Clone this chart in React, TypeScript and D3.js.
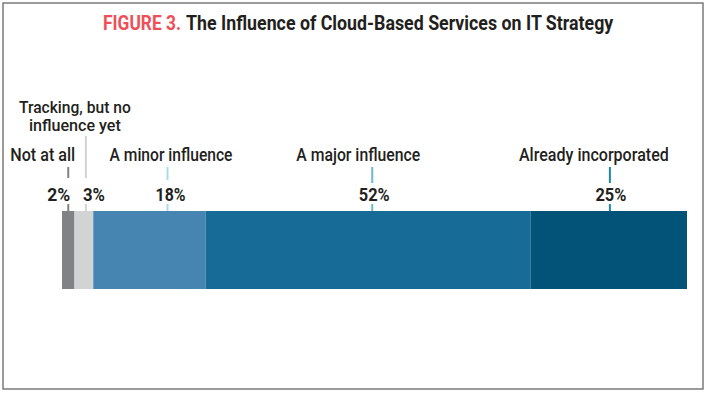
import React from "react";
import * as d3 from "d3";

const categories = ["Not at all", "Tracking, but no influence yet", "A minor influence", "A major influence", "Already incorporated"];
const values = [2, 3, 18, 52, 25];
const valueLabels = ["2%", "3%", "18%", "52%", "25%"];
const labelLines = [["Not at all"], ["Tracking, but no", "influence yet"], ["A minor influence"], ["A major influence"], ["Already incorporated"]];
const titlePrefix = "FIGURE 3.";
const titleText = "The Influence of Cloud-Based Services on IT Strategy";

// style config
const segColors = ["#808285", "#d1d3d4", "#4685b1", "#166b97", "#035378"];
const leaderColors = ["#808285", "#d1d3d4", "#abdbe6", "#6db9c8", "#1b8aa2"];
const leaderDx = [0, 2, 18, 4, 1];
const labelDx = [-25.5, -11, 3.5, -14, -16];
const labelWidths = [[65], [112, 92], [123], [124], [150]];
const pctAnchor = ["end", "start", "middle", "middle", "middle"];
const pctDx = [2, -3, 3, 2, 1];
const pctWidths = [23, 22, 30, 31, 31];
const leaderTop = [167, 136, 167, 167, 167];
const leaderMid = [178, 178, 180, 183, 183];

const W = 706, H = 393;
const FONT = "Roboto, 'Liberation Sans', sans-serif";

let ctx: CanvasRenderingContext2D | null = null;
function measure(text: string, weight: number, size: number) {
  if (!ctx) ctx = document.createElement("canvas").getContext("2d");
  if (!ctx) return text.length * size * 0.5;
  ctx.font = `${weight} ${size}px Roboto, 'Liberation Sans', sans-serif`;
  return ctx.measureText(text).width;
}

function FitText(props: { text: string; x: number; y: number; width: number; anchor: string; weight: number; size: number; fill?: string }) {
  const { text, x, y, width, anchor, weight, size, fill } = props;
  const sx = width / measure(text, weight, size);
  return (
    <text transform={`translate(${x},${y}) scale(${sx},1)`} textAnchor={anchor as any} fontFamily={FONT} fontWeight={weight} fontSize={size} fill={fill || "#231f20"}>
      {text}
    </text>
  );
}

export default function App() {
  const x = d3.scaleLinear().domain([0, d3.sum(values)]).range([62, 687]);
  const stacked = values.reduce<{ x0: number; x1: number }[]>((acc, v, i) => {
    const start = i === 0 ? 0 : acc[i - 1].x1;
    acc.push({ x0: start, x1: start + v });
    return acc;
  }, []);
  const barTop = 211, barBottom = 289;
  return (
    <svg width={W} height={H} style={{ position: "absolute", left: 0, top: 0, background: "#fff" }}>
      <rect x={3} y={3} width={700} height={386} fill="#fff" stroke="#7a7a7a" strokeWidth={1.5} />
      <FitText text={titlePrefix} x={103} y={30} width={78} anchor="start" weight={700} size={21} fill="#ee5058" />
      <FitText text={titleText} x={186} y={30} width={428} anchor="start" weight={700} size={21} />
      {stacked.map((s, i) => (
        <rect key={i} x={x(s.x0)} y={barTop} width={x(s.x1) - x(s.x0)} height={barBottom - barTop} fill={segColors[i]} />
      ))}
      {stacked.map((s, i) => {
        const cx = (x(s.x0) + x(s.x1)) / 2 + leaderDx[i];
        const lines = labelLines[i];
        const y0 = lines.length === 2 ? 113 : 161;
        return (
          <g key={"l" + i}>
            <line x1={cx} x2={cx} y1={leaderTop[i]} y2={leaderMid[i]} stroke={leaderColors[i]} strokeWidth={2} />
            <line x1={cx} x2={cx} y1={204} y2={barTop} stroke={leaderColors[i]} strokeWidth={2} />
            {lines.map((t, j) => (
              <FitText key={j} text={t} x={cx + labelDx[i]} y={y0 + j * 18} width={labelWidths[i][j]} anchor="middle" weight={500} size={lines.length === 2 ? 16 : 19} />
            ))}
            <FitText text={valueLabels[i]} x={cx + pctDx[i]} y={201} width={pctWidths[i]} anchor={pctAnchor[i]} weight={700} size={18} />
          </g>
        );
      })}
    </svg>
  );
}
